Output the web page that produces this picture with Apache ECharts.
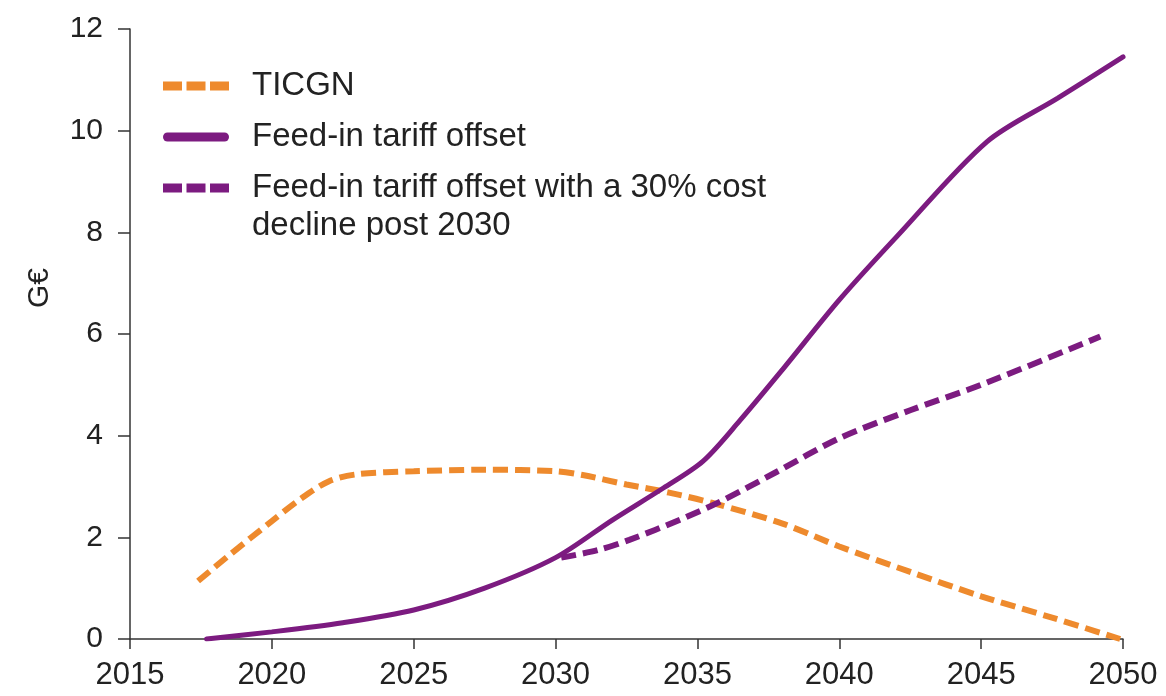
<!DOCTYPE html>
<html>
<head>
<meta charset="utf-8">
<script src="https://cdn.jsdelivr.net/npm/echarts@6/dist/echarts.min.js"></script>
<style>
html,body{margin:0;padding:0;background:#fff;}
#chart{width:1166px;height:696px;}
</style>
</head>
<body>
<div id="chart"></div>
<script>
const seriesNames = ['TICGN', 'Feed-in tariff offset', 'Feed-in tariff offset with a 30% cost decline post 2030'];
const ticgnYears  = [2017.4, 2018.5, 2020, 2021, 2022, 2023, 2025, 2027.5, 2030, 2031, 2032.5, 2034, 2035.5, 2038, 2040, 2042.5, 2045, 2047.5, 2049.9];
const ticgnValues = [1.14, 1.65, 2.32, 2.75, 3.1, 3.24, 3.3, 3.33, 3.3, 3.22, 3.04, 2.88, 2.68, 2.27, 1.82, 1.32, 0.84, 0.42, 0.0];
const fitYears    = [2017.7, 2020, 2022.5, 2025, 2027.5, 2030, 2032, 2033.8, 2035.2, 2036.5, 2038, 2040, 2042, 2045.2, 2047.7, 2050];
const fitValues   = [0.0, 0.14, 0.32, 0.57, 1.0, 1.6, 2.34, 2.97, 3.5, 4.3, 5.3, 6.67, 7.9, 9.78, 10.64, 11.45];
const fit30Years  = [2030.2, 2031.5, 2032.6, 2034.4, 2035.9, 2037.8, 2040, 2042.5, 2045, 2049.2];
const fit30Values = [1.6, 1.75, 1.95, 2.35, 2.73, 3.29, 3.95, 4.5, 5.0, 5.95];
const yAxisTitle = 'G€';

function pairs(xs, ys) { return xs.map((x, i) => [x, ys[i]]); }

const ORANGE = '#ee8a2d';
const PURPLE = '#7c1b80';
const FONT = 'Liberation Sans, Arial, Helvetica, sans-serif';
const DASH_ICON = 'path://M0,0h19v9h-19z M23.5,0h19v9h-19z M47,0h19v9h-19z';
const SOLID_ICON = 'path://M4.5,0h57a4.5,4.5 0 0 1 0,9h-57a4.5,4.5 0 0 1 0,-9z';

const legendText = { fontFamily: FONT, fontSize: 33, color: '#222', lineHeight: 38, padding: [0, 0, 0, 18] };

const chart = echarts.init(document.getElementById('chart'));
chart.setOption({
  animation: false,
  backgroundColor: '#fff',
  grid: { left: 130, right: 43, top: 29, bottom: 57, containLabel: false },
  legend: [{
    left: 163, top: 67, orient: 'vertical', padding: 0,
    itemWidth: 66, itemHeight: 9, itemGap: 13,
    itemStyle: { borderWidth: 0 },
    data: [
      { name: seriesNames[0], icon: DASH_ICON },
      { name: seriesNames[1], icon: SOLID_ICON }
    ],
    textStyle: legendText
  }, {
    left: 163, top: 131, orient: 'vertical', padding: 0,
    itemWidth: 66, itemHeight: 9,
    itemStyle: { borderWidth: 0 },
    data: [{ name: seriesNames[2], icon: DASH_ICON }],
    textStyle: legendText,
    formatter: function (n) { return '\n' + n.replace(' 30% cost ', ' 30% cost\n'); }
  }],
  xAxis: {
    type: 'value', min: 2015, max: 2050, interval: 5,
    axisLine: { show: true, lineStyle: { color: '#333', width: 1.5 } },
    axisTick: { show: true, length: 10, lineStyle: { color: '#333', width: 1.5 } },
    axisLabel: { margin: 21, fontFamily: FONT, fontSize: 31, color: '#222', showMinLabel: true, showMaxLabel: true,
      formatter: function (v) { return String(v); } },
    splitLine: { show: false }
  },
  yAxis: {
    type: 'value', min: 0, max: 12, interval: 2,
    axisLine: { show: true, lineStyle: { color: '#333', width: 1.5 } },
    axisTick: { show: true, length: 12, lineStyle: { color: '#333', width: 1.5 } },
    axisLabel: { margin: 27, fontFamily: FONT, fontSize: 30, color: '#222' },
    splitLine: { show: false }
  },
  graphic: [{
    type: 'text', x: 40, y: 288, rotation: Math.PI / 2,
    style: { text: yAxisTitle, fontFamily: FONT, fontSize: 30, fill: '#222', align: 'center', verticalAlign: 'middle' }
  }],
  series: [
    { name: seriesNames[0], type: 'line', data: pairs(ticgnYears, ticgnValues), smooth: 0.3, symbol: 'none',
      lineStyle: { color: ORANGE, width: 6, type: [15, 7] }, itemStyle: { color: ORANGE } },
    { name: seriesNames[1], type: 'line', data: pairs(fitYears, fitValues), smooth: 0.3, symbol: 'none',
      lineStyle: { color: PURPLE, width: 5, type: 'solid', cap: 'round' }, itemStyle: { color: PURPLE } },
    { name: seriesNames[2], type: 'line', data: pairs(fit30Years, fit30Values), smooth: 0.3, symbol: 'none',
      lineStyle: { color: PURPLE, width: 6, type: [15, 7] }, itemStyle: { color: PURPLE } }
  ]
});
</script>
</body>
</html>
